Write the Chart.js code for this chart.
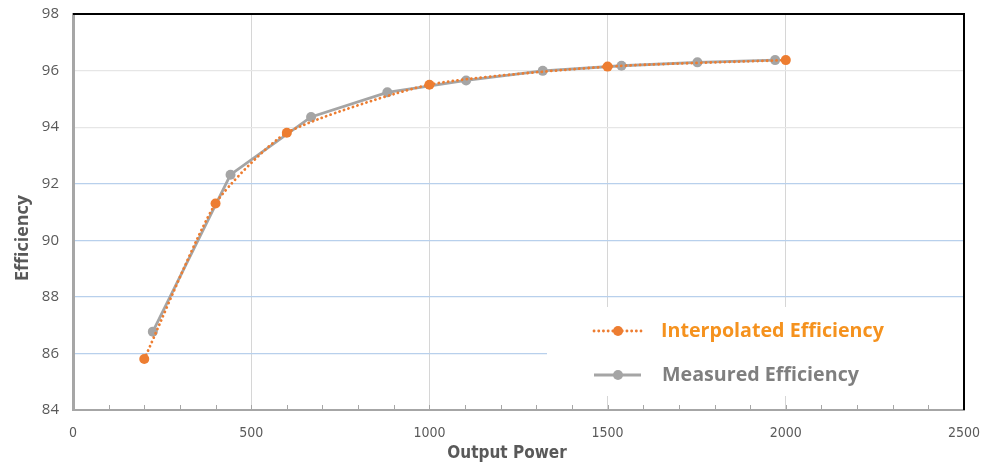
<!DOCTYPE html>
<html>
<head>
<meta charset="utf-8">
<script src="https://cdn.jsdelivr.net/npm/chart.js@4/dist/chart.umd.min.js"></script>
<style>
  html, body { margin: 0; padding: 0; background: #ffffff; }
  #wrap { width: 984px; height: 466px; position: relative; }
</style>
</head>
<body>
<div id="wrap"><canvas id="chart" width="984" height="466"></canvas></div>
<script>
// Efficiency vs. output power
const interpPower = [200, 400, 600, 1000, 1500, 2000];
const interpEff   = [85.8, 91.3, 93.8, 95.5, 96.14, 96.37];

const measPower = [224, 442, 668, 882, 1103, 1318, 1539, 1752, 1970];
const measEff   = [86.77, 92.32, 94.36, 95.23, 95.65, 95.99, 96.17, 96.29, 96.37];

const xTicks = [0, 500, 1000, 1500, 2000, 2500];
const yTicks = [84, 86, 88, 90, 92, 94, 96, 98];

const seriesNames = ['Interpolated Efficiency', 'Measured Efficiency'];
const xTitle = 'Output Power';
const yTitle = 'Efficiency';

const ORANGE = '#ED7D31';
const GREY = '#A5A5A5';
const LEGEND_ORANGE = '#F5921E';
const LEGEND_GREY = '#7F7F7F';
const AXIS_TEXT = '#595959';
const DOTS = [0.1, 4.6];

const toPoints = (xs, ys) => xs.map((x, i) => ({ x: x, y: ys[i] }));

// minor tick marks along the bottom axis, pointing into the plot
const minorTicks = {
  id: 'minorTicks',
  afterDraw(chart) {
    const { ctx, scales: { x }, chartArea } = chart;
    ctx.save();
    ctx.strokeStyle = '#A6A6A6';
    ctx.lineWidth = 1;
    for (let v = 100; v < 2500; v += 100) {
      const px = Math.round(x.getPixelForValue(v)) + 0.5;
      ctx.beginPath();
      ctx.moveTo(px, chartArea.bottom - 1);
      ctx.lineTo(px, chartArea.bottom - 5);
      ctx.stroke();
    }
    ctx.restore();
  }
};

// black frame on the top and right edges, plus the two axis titles
const frame = {
  id: 'frame',
  afterDraw(chart) {
    const { ctx, chartArea: a } = chart;
    ctx.save();
    ctx.strokeStyle = '#000000';
    ctx.lineWidth = 2;
    ctx.beginPath();
    ctx.moveTo(a.left, a.top);
    ctx.lineTo(a.right, a.top);
    ctx.lineTo(a.right, a.bottom);
    ctx.stroke();

    ctx.fillStyle = AXIS_TEXT;
    ctx.textAlign = 'center';
    ctx.textBaseline = 'middle';
    ctx.font = 'bold 17px "Liberation Sans Narrow", "DejaVu Sans Condensed", sans-serif';
    ctx.fillText(xTitle, 507, 454);

    ctx.translate(23, 238);
    ctx.rotate(-Math.PI / 2);
    ctx.font = 'bold 18px "Open Sans", sans-serif';
    ctx.fillText(yTitle, 0, 0);
    ctx.restore();
  }
};

// legend block inside the plot, lower right
const insetLegend = {
  id: 'insetLegend',
  beforeDatasetsDraw(chart) {
    const { ctx, chartArea: a } = chart;
    ctx.save();
    ctx.fillStyle = '#ffffff';
    ctx.fillRect(547, 307, a.right - 548, 89);
    ctx.restore();
  },
  afterDraw(chart) {
    const { ctx } = chart;
    ctx.save();
    const family = '"Open Sans", "DejaVu Sans", sans-serif';
    ctx.font = 'bold 20px ' + family;
    const w = ctx.measureText(seriesNames[0]).width;
    const size = 20 * 223 / w;
    ctx.font = 'bold ' + size.toFixed(2) + 'px ' + family;
    ctx.textBaseline = 'middle';
    ctx.textAlign = 'left';

    const rows = [
      { y: 331, color: ORANGE, text: LEGEND_ORANGE, dash: DOTS, tx: 661 },
      { y: 375, color: GREY, text: LEGEND_GREY, dash: [], tx: 662 }
    ];
    rows.forEach((r, i) => {
      ctx.strokeStyle = r.color;
      ctx.lineWidth = 2.8;
      ctx.lineCap = r.dash.length ? 'round' : 'butt';
      ctx.setLineDash(r.dash);
      ctx.beginPath();
      ctx.moveTo(594, r.y);
      ctx.lineTo(641, r.y);
      ctx.stroke();
      ctx.setLineDash([]);
      ctx.fillStyle = r.color;
      ctx.beginPath();
      ctx.arc(618, r.y, 5, 0, Math.PI * 2);
      ctx.fill();
      ctx.fillStyle = r.text;
      ctx.fillText(seriesNames[i], r.tx, r.y);
    });
    ctx.restore();
  }
};

new Chart(document.getElementById('chart'), {
  type: 'scatter',
  data: {
    datasets: [
      {
        label: seriesNames[0],
        data: toPoints(interpPower, interpEff),
        showLine: true,
        borderColor: ORANGE,
        backgroundColor: ORANGE,
        borderWidth: 2.8,
        borderDash: DOTS,
        borderCapStyle: 'round',
        tension: 0.2,
        pointRadius: 5,
        pointBorderWidth: 0,
        pointBackgroundColor: ORANGE
      },
      {
        label: seriesNames[1],
        data: toPoints(measPower, measEff),
        showLine: true,
        borderColor: GREY,
        backgroundColor: GREY,
        borderWidth: 2.8,
        tension: 0,
        pointRadius: 5,
        pointBorderWidth: 0,
        pointBackgroundColor: GREY
      }
    ]
  },
  options: {
    responsive: false,
    animation: false,
    layout: { padding: { top: 14, right: 20, left: 0, bottom: 0 } },
    plugins: {
      legend: { display: false },
      tooltip: { enabled: false }
    },
    scales: {
      x: {
        type: 'linear',
        min: xTicks[0],
        max: xTicks[xTicks.length - 1],
        afterBuildTicks(scale) { scale.ticks = xTicks.map(v => ({ value: v })); },
        afterFit(scale) {
          scale.height = 56;
          scale.paddingLeft = 0;
          scale.paddingRight = 0;
        },
        ticks: {
          color: AXIS_TEXT,
          padding: 15,
          maxRotation: 0,
          callback: v => String(v),
          font: { family: '"Liberation Sans Narrow", "DejaVu Sans Condensed", sans-serif', size: 14 }
        },
        grid: {
          color: '#D6D6D6',
          lineWidth: 1,
          drawTicks: false
        },
        border: { color: '#A6A6A6', width: 2 },
        title: { display: false }
      },
      y: {
        type: 'linear',
        min: yTicks[0],
        max: yTicks[yTicks.length - 1],
        afterBuildTicks(scale) { scale.ticks = yTicks.map(v => ({ value: v })); },
        afterFit(scale) {
          scale.width = 73;
          scale.paddingTop = 0;
          scale.paddingBottom = 0;
        },
        ticks: {
          color: AXIS_TEXT,
          padding: 14,
          callback: v => String(v),
          font: { family: '"Open Sans", sans-serif', size: 15 }
        },
        grid: {
          color: ctx => (ctx.tick && ctx.tick.value >= 94) ? '#E6E6E6' : '#B8D0EC',
          lineWidth: 1.2,
          drawTicks: false
        },
        border: { color: '#A6A6A6', width: 3 },
        title: { display: false }
      }
    }
  },
  plugins: [minorTicks, frame, insetLegend]
});
</script>
</body>
</html>
